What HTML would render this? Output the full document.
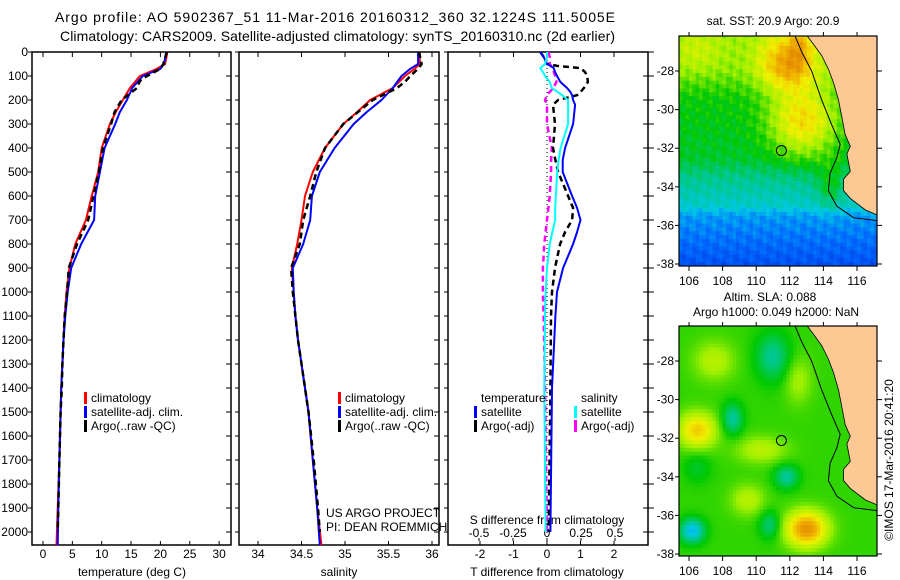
<!DOCTYPE html>
<html><head><meta charset="utf-8"><style>
html,body{margin:0;padding:0;background:#fff}
svg{display:block;font-family:"Liberation Sans",sans-serif}
</style></head><body>
<svg id="fig" width="900" height="580" viewBox="0 0 900 580" xmlns="http://www.w3.org/2000/svg">
<text x="55" y="22" font-size="14" textLength="560">Argo profile: AO 5902367_51 11-Mar-2016 20160312_360 32.1224S 111.5005E</text>
<text x="60" y="41" font-size="14" textLength="555">Climatology: CARS2009. Satellite-adjusted climatology: synTS_20160310.nc (2d earlier)</text>
<g id="panels"></g>
<g id="maps"></g>
<text transform="translate(893,460) rotate(-90)" font-size="12" text-anchor="middle">©IMOS 17-Mar-2016 20:41:20</text>
</svg>
<script>
// ---------- data ----------
const depthT = [0,50,70,100,150,200,250,300,400,500,600,700,800,900,1000,1100,1200,1300,1400,1500,1700,1900,2055];
const tempClim = [21.2,20.8,19.4,16.5,14.8,13.6,12.4,11.4,10.0,9.4,8.3,7.3,5.5,4.5,4.0,3.7,3.5,3.3,3.1,3.0,2.8,2.5,2.3];
const tempSat  = [21.0,20.6,20.0,17.0,15.2,14.3,13.1,12.3,10.5,9.7,8.9,8.7,6.5,4.8,4.2,3.8,3.5,3.3,3.1,3.0,2.8,2.6,2.5];
const depthA = [0,50,70,100,120,150,200,250,300,400,500,600,700,800,900,1000,1100,1200,1300,1400,1500,1700,1900,2000];
const tempArgo = [21.1,20.5,20.0,17.7,16.5,16.0,13.4,12.2,11.6,10.2,9.5,8.6,7.7,5.8,4.4,4.1,3.7,3.5,3.3,3.2,3.0,2.8,2.6,2.5];
const salClim = [35.86,35.86,35.80,35.69,35.55,35.29,35.14,34.98,34.77,34.63,34.54,34.50,34.45,34.39,34.41,34.43,34.46,34.50,34.54,34.58,34.63,34.68,34.73];
const salSat  = [35.84,35.84,35.75,35.65,35.55,35.42,35.25,35.10,34.88,34.71,34.62,34.60,34.52,34.40,34.41,34.43,34.46,34.50,34.54,34.58,34.63,34.68,34.71];
const salArgo = [35.85,35.88,35.84,35.75,35.70,35.60,35.32,35.15,34.98,34.77,34.67,34.60,34.52,34.48,34.38,34.40,34.43,34.46,34.50,34.54,34.58,34.64,34.69,34.71];
const depthD = [0,20,50,58,67,83,100,125,150,167,180,200,220,300,400,450,500,600,650,700,750,800,900,1000,1100,1400,2000];
const dTsat  = [-0.2,-0.1,0.0,0.1,0.2,0.24,0.3,0.4,0.6,0.7,0.75,0.78,0.84,0.78,0.54,0.47,0.47,0.75,0.9,1.0,0.9,0.78,0.48,0.3,0.25,0.15,0.1];
const dTargo = [-0.2,-0.1,0.0,0.3,1.0,1.13,1.2,1.22,1.1,1.0,0.9,0.33,0.18,0.24,0.18,0.25,0.33,0.63,0.78,0.75,0.54,0.39,0.24,0.15,0.12,0.1,0.05];
const dSsat  = [0,0,-0.015,-0.03,-0.05,-0.03,-0.015,0.02,0.035,0.08,0.11,0.155,0.155,0.155,0.1,0.085,0.075,0.065,0.06,0.06,0.04,0.02,0,-0.01,-0.015,-0.02,-0.01];
const dSargo = [0.01,0.02,0.02,0.03,0.035,0.05,0.06,0.07,0.045,0.02,0,-0.015,0.0,0.0,0.035,0.03,0.03,0.02,0.01,0.0,-0.01,-0.02,-0.03,-0.03,-0.025,-0.015,0];
const depthTicks = [0,100,200,300,400,500,600,700,800,900,1000,1100,1200,1300,1400,1500,1600,1700,1800,1900,2000];
const tempTicks = [0,5,10,15,20,25,30];
const salTicks = [34,34.5,35,35.5,36];
const dTTicks = [-2,-1,0,1,2];
const dSTicks = [-0.5,-0.25,0,0.25,0.5];
const lonTicks = [106,108,110,112,114,116];
const latTicks = [-28,-30,-32,-34,-36,-38];
const argoLon = 111.5, argoLat = -32.12;

// ---------- axis functions ----------
const yD = d => 52 + d*0.24;
const xT = t => 43 + t*5.87;
const xS = s => 258 + (s-34)*87;
const xDT = v => 547 + v*33.5;
const xDS = v => 547 + v*136;
const NS = "http://www.w3.org/2000/svg";
function mk(tag, attrs, parent){const e=document.createElementNS(NS,tag);for(const k in attrs)e.setAttribute(k,attrs[k]);parent.appendChild(e);return e;}
const P = document.getElementById('panels');

const boxes = [[32,231],[239,439],[448,648]];
boxes.forEach((b,i)=>{
  const r = mk('rect',{x:b[0],y:52,width:b[1]-b[0],height:493,fill:'none',stroke:'#000','stroke-width':1.5},P);
  
  
  depthTicks.forEach(d=>{
    mk('line',{x1:b[0]-4,x2:b[0],y1:yD(d),y2:yD(d),stroke:'#000'},P);
    mk('line',{x1:b[1]-5,x2:b[1]+(i==2?6:0),y1:yD(d),y2:yD(d),stroke:'#000'},P);
  });
});
depthTicks.forEach(d=>{
  const t = mk('text',{x:28,y:yD(d)+4,'font-size':12,'text-anchor':'end'},P);
  t.textContent = d;
  
  
});
function xticks(ticks, fx, labY){
  ticks.forEach(v=>{
    const x=fx(v);
    mk('line',{x1:x,x2:x,y1:545,y2:541,stroke:'#000'},P);
    mk('line',{x1:x,x2:x,y1:52,y2:57,stroke:'#000'},P);
    const t=mk('text',{x:x,y:labY,'font-size':12,'text-anchor':'middle'},P);
    t.textContent = v;
    
    
  });
}
xticks(tempTicks,xT,558);
xticks(salTicks,xS,558);
xticks(dTTicks,xDT,558);
dSTicks.forEach(v=>{
  const x=xDS(v);
  mk('line',{x1:x,x2:x,y1:538,y2:541,stroke:'#000'},P);
  const t=mk('text',{x:x,y:537,'font-size':12,'text-anchor':'middle'},P);
  t.textContent = v;
  
  
});
function label(x,y,s,name,anchor){const t=mk('text',{x:x,y:y,'font-size':12,'text-anchor':anchor||'middle'},P);t.textContent=s;return t;}
label(132,576,'temperature (deg C)','temperature-axis-title');
label(339,576,'salinity','salinity-axis-title');
label(547,576,'T difference from climatology','t-diff-axis-title');
label(547,524,'S difference from climatology','s-diff-axis-title');
label(326,517,'US ARGO PROJECT','project-note','start');
label(326,531,'PI: DEAN ROEMMICH','pi-note','start');

function line(xs, ds, fx, color, w, dash, name){
  const pts = xs.map((v,i)=>fx(v).toFixed(1)+','+yD(ds[i]).toFixed(1)).join(' ');
  const a={points:pts,fill:'none',stroke:color,'stroke-width':w,'stroke-linejoin':'round'};
  if(dash)a['stroke-dasharray']=dash;
  const p=mk('polyline',a,P);
  
  
}
const z=mk('line',{x1:xDT(0),x2:xDT(0),y1:52,y2:545,stroke:'#000','stroke-dasharray':'1,3'},P);



line(tempClim,depthT,xT,'#f00',2,null,'temp-climatology-line');
line(tempSat,depthT,xT,'#00f',2,null,'temp-satellite-line');
line(tempArgo,depthA,xT,'#000',2.5,'6,4','temp-argo-line');
line(salClim,depthT,xS,'#f00',2,null,'sal-climatology-line');
line(salSat,depthT,xS,'#00f',2,null,'sal-satellite-line');
line(salArgo,depthA,xS,'#000',2.5,'6,4','sal-argo-line');
line(dSargo,depthD,xDS,'#f0f',2.5,'6,4','s-diff-argo-line');
line(dTargo,depthD,xDT,'#000',2.5,'6,4','t-diff-argo-line');
line(dTsat,depthD,xDT,'#00f',2,null,'t-diff-satellite-line');
line(dSsat,depthD,xDS,'#0ff',2,null,'s-diff-satellite-line');

function legend(x,y,color,s,name){
  mk('rect',{x:x,y:y-10,width:3,height:12,fill:color},P);
  label(x+7,y,s,name,'start');
}
[['climatology','#f00'],['satellite-adj. clim.','#00f'],["Argo(..raw -QC)",'#000']].forEach((e,i)=>legend(84,402+i*14,e[1],e[0],'legend-temp-'+i));
[['climatology','#f00'],['satellite-adj. clim.','#00f'],["Argo(..raw -QC)",'#000']].forEach((e,i)=>legend(338,402+i*14,e[1],e[0],'legend-sal-'+i));
label(481,402,'temperature','legend-temp-header','start');
label(581,402,'salinity','legend-sal-header','start');
legend(474,416,'#00f','satellite','legend-dt-satellite');
legend(474,430,'#000','Argo(-adj)','legend-dt-argo');
legend(574,416,'#0ff','satellite','legend-ds-satellite');
legend(574,430,'#f0f','Argo(-adj)','legend-ds-argo');

// ---------- maps ----------
const M = document.getElementById('maps');
const mx = lon => 689 + (lon-106)*16.8;
const coast = [[113.0,-26.15],[113.4,-26.6],[113.9,-27.2],[114.3,-27.9],[114.6,-28.6],[114.9,-29.5],[115.1,-30.4],[115.3,-31.3],[115.6,-31.9],[115.4,-32.3],[115.6,-33.2],[115.2,-33.6],[115.2,-34.2],[115.6,-34.6],[116.5,-35.2],[117.6,-35.6],[117.6,-26.15]];
const shelf = [[112.3,-26.15],[112.7,-27],[113.3,-28],[113.9,-29.5],[114.5,-30.8],[115.0,-31.8],[114.8,-32.5],[114.4,-33.3],[114.3,-34.2],[114.8,-35.0],[115.8,-35.6],[117.6,-35.8]];
const cols = [[0,[0,0,140]],[0.12,[0,40,220]],[0.25,[0,110,255]],[0.35,[0,200,230]],[0.45,[0,200,140]],[0.55,[0,200,0]],[0.65,[160,240,0]],[0.75,[240,240,0]],[0.85,[240,170,0]],[1,[210,100,0]]];
function cmap(v){v=Math.max(0,Math.min(1,v));for(let i=1;i<cols.length;i++){if(v<=cols[i][0]){const a=cols[i-1],b=cols[i],f=(v-a[0])/(b[0]-a[0]);return 'rgb('+a[1].map((c,k)=>Math.round(c+(b[1][k]-c)*f)).join(',')+')';}}return 'rgb(210,100,0)';}
function g(lon,lat,cx,cy,sx,sy){return Math.exp(-(((lon-cx)/sx)**2+((lat-cy)/sy)**2));}
const sstLat=[-26,-28,-29.5,-32.5,-33.5,-35,-35.5,-38];
const sstBase=[0.65,0.63,0.55,0.52,0.45,0.38,0.30,0.2];
function baseAt(lat){for(let i=1;i<sstLat.length;i++){if(lat>=sstLat[i]){const f=(lat-sstLat[i-1])/(sstLat[i]-sstLat[i-1]);return sstBase[i-1]+(sstBase[i]-sstBase[i-1])*f;}}return 0.2;}
function sst(lon,lat){
  let v=baseAt(lat);
  v+=0.22*g(lon,lat,111.8,-27.6,1.6,1.4)+0.24*g(lon,lat,112.8,-30.6,2.0,1.8)+0.12*g(lon,lat,112.6,-26.5,0.7,1.4);
  v+=0.06*g(lon,lat,106.5,-27,1.5,1);
  v+=0.1*g(lon,lat,114.4,-34,0.8,1.2);
  v+=0.035*Math.sin(lon*7.1+lat*3.7)*Math.cos(lat*5.3-lon*2.9);
  return v;
}
function sla(lon,lat){
  let v=0.58;
  v+=0.22*g(lon,lat,106.5,-31.6,1.1,0.9)+0.32*g(lon,lat,113,-36.7,1.2,0.9)+0.1*g(lon,lat,107.5,-28,1.2,1)+0.1*g(lon,lat,110.3,-32.6,1.5,0.7)+0.1*g(lon,lat,109.5,-35.2,1,0.8)+0.08*g(lon,lat,112.5,-29,0.8,1.2);
  v-=0.14*g(lon,lat,111,-27.8,1,1.2)+0.15*g(lon,lat,108.6,-31,0.6,0.8)+0.15*g(lon,lat,111.8,-34,0.7,0.6)+0.25*g(lon,lat,106.2,-36.8,0.7,0.6)+0.12*g(lon,lat,110.8,-36.5,0.6,0.7)+0.06*g(lon,lat,106.5,-33.5,0.8,0.8);
  return v;
}
function drawMap(top,field,name){
  const my = lat => top + 35 + (-28-lat)*19.3;
  const grp = mk('g',{},M);
  
  
  const step=0.2;
  for(let lon=105.4;lon<117.6;lon+=step){
    for(let lat=-26.1;lat>-38.2;lat-=step){
      mk('rect',{x:mx(lon).toFixed(1),y:my(lat).toFixed(1),width:(step*16.8+0.6).toFixed(1),height:(step*19.3+0.6).toFixed(1),fill:cmap(field(lon+step/2,lat-step/2))},grp);
    }
  }
  const land = mk('polygon',{points:coast.map(p=>mx(p[0]).toFixed(1)+','+my(p[1]).toFixed(1)).join(' '),fill:'#fcc894',stroke:'#000','stroke-width':0.8},grp);
  
  
  mk('polyline',{points:shelf.map(p=>mx(p[0]).toFixed(1)+','+my(p[1]).toFixed(1)).join(' '),fill:'none',stroke:'#000','stroke-width':1},grp);
  mk('rect',{x:660,y:top-2,width:19,height:236,fill:'#fff'},M);
  mk('rect',{x:877,y:top-2,width:12,height:236,fill:'#fff'},M);
  mk('rect',{x:660,y:top-14,width:230,height:14,fill:'#fff'},M);
  mk('rect',{x:660,y:top+230,width:230,height:12,fill:'#fff'},M);
  const fr=mk('rect',{x:679,y:top,width:198,height:230,fill:'none',stroke:'#000','stroke-width':1.2},M);
  
  
  const c=mk('circle',{cx:mx(argoLon),cy:my(argoLat),r:5,fill:'none',stroke:'#000','stroke-width':1},M);
  
  
  lonTicks.forEach(l=>{
    mk('line',{x1:mx(l),x2:mx(l),y1:top+230,y2:top+235,stroke:'#000'},M);
    mk('line',{x1:mx(l),x2:mx(l),y1:top,y2:top-4,stroke:'#000'},M);
    const t=mk('text',{x:mx(l),y:top+249,'font-size':12,'text-anchor':'middle'},M);
    t.textContent=l;
    
    
  });
  latTicks.forEach(l=>{
    mk('line',{x1:679,x2:675,y1:my(l),y2:my(l),stroke:'#000'},M);
    mk('line',{x1:877,x2:882,y1:my(l),y2:my(l),stroke:'#000'},M);
    const t=mk('text',{x:674,y:my(l)+4,'font-size':12,'text-anchor':'end'},M);
    t.textContent=l;
    
    
  });
}
drawMap(36,sst,'sst-map');
drawMap(326,sla,'sla-map');
function mlabel(x,y,s,name){const t=mk('text',{x:x,y:y,'font-size':12,'text-anchor':'middle'},M);t.textContent=s;}
mlabel(773,25,'sat. SST: 20.9 Argo: 20.9','sst-map-title');
mlabel(770,301,'Altim. SLA: 0.088','sla-map-title');
mlabel(776,316,'Argo h1000: 0.049 h2000: NaN','sla-map-subtitle');
</script>
</body></html>
